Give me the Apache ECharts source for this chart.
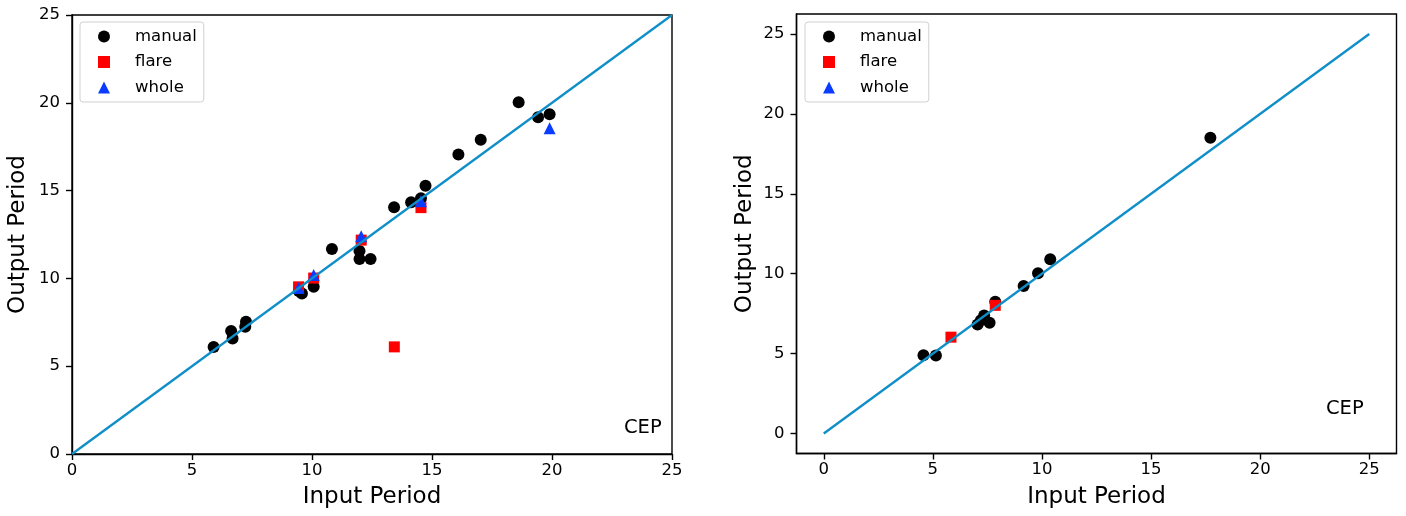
<!DOCTYPE html>
<html>
<head>
<meta charset="utf-8">
<script src="https://cdn.jsdelivr.net/npm/echarts@6/dist/echarts.min.js"></script>
<style>
html,body{margin:0;padding:0;background:#fff;}
#chart{width:1406px;height:516px;}
</style>
</head>
<body>
<div id="chart"></div>
<script>
// ---- Data ----
const seriesNames = ['manual', 'flare', 'whole'];
const tickValues = [0, 5, 10, 15, 20, 25];
const diagonal = [[0, 0], [25, 25]];

// Left panel
const leftManual = [
  [5.90, 6.10], [6.63, 7.00], [6.69, 6.58], [7.22, 7.24], [7.25, 7.53],
  [9.45, 9.28], [9.58, 9.14], [10.07, 9.52], [10.83, 11.67], [11.98, 11.56],
  [11.98, 11.10], [12.44, 11.10], [13.42, 14.05], [14.13, 14.33], [14.54, 14.56],
  [14.73, 15.28], [16.10, 17.05], [17.03, 17.90], [18.61, 20.03], [19.42, 19.18],
  [19.90, 19.35]
];
const leftFlare = [
  [9.44, 9.52], [10.07, 10.02], [12.05, 12.18], [14.54, 14.03], [13.43, 6.10]
];
const leftWhole = [
  [9.44, 9.45], [10.07, 10.19], [12.05, 12.40], [14.54, 14.40], [19.90, 18.55]
];

// Right panel
const rightManual = [
  [4.57, 4.90], [5.14, 4.88], [7.05, 6.82], [7.20, 7.09], [7.35, 7.39],
  [7.60, 6.93], [7.86, 8.25], [9.16, 9.23], [9.82, 10.03], [10.38, 10.90],
  [17.72, 18.50]
];
const rightFlare = [[5.83, 6.03], [7.86, 8.02]];
const rightWhole = [];

const annotation = 'CEP';
const xTitle = 'Input Period';
const yTitle = 'Output Period';

// ---- Styles ----
const FONT = 'DejaVu Sans';
const colors = { manual: '#000000', flare: '#ff0000', whole: '#0a3cff', line: '#0f8ec8' };
const symbols = { manual: 'circle', flare: 'rect', whole: 'triangle' };
const symbolSizes = { manual: 12, flare: 11, whole: 12 };

const chart = echarts.init(document.getElementById('chart'), null, { renderer: 'canvas' });

function makeAxis(gridIndex, isX, padded) {
  const ax = {
    type: 'value',
    gridIndex: gridIndex,
    min: padded ? -1.25 : 0,
    max: padded ? 26.25 : 25,
    name: isX ? xTitle : yTitle,
    nameLocation: 'middle',
    nameGap: isX ? 32 : (gridIndex === 0 ? 42 : 40),
    nameTextStyle: { fontFamily: FONT, fontSize: 23, color: '#000' },
    axisLine: { show: true, onZero: false, lineStyle: { color: '#000', width: 1.4 } },
    axisTick: { show: true, inside: false, length: 6, lineStyle: { color: '#000', width: 1.4 } },
    axisLabel: { fontFamily: FONT, fontSize: 16.5, color: '#000', margin: isX ? 8 : 12 },
    splitLine: { show: false }
  };
  if (padded) {
    ax.axisTick.customValues = tickValues;
    ax.axisLabel.customValues = tickValues;
  } else {
    ax.interval = 5;
  }
  return ax;
}

function scatter(name, data, idx) {
  return {
    name: name,
    type: 'scatter',
    xAxisIndex: idx, yAxisIndex: idx,
    data: data,
    symbol: symbols[name],
    symbolSize: symbolSizes[name],
    itemStyle: { color: colors[name], opacity: 1 },
    emphasis: { disabled: true },
    silent: true,
    animation: false
  };
}

function lineSeries(idx) {
  return {
    name: 'diag',
    type: 'line',
    xAxisIndex: idx, yAxisIndex: idx,
    data: diagonal,
    symbol: 'none',
    lineStyle: { color: colors.line, width: 2.3 },
    z: 5,
    silent: true,
    animation: false
  };
}

function legend(left) {
  return {
    orient: 'vertical',
    left: left,
    top: 22,
    data: seriesNames.map(n => ({ name: n, icon: symbols[n], itemStyle: { color: colors[n] } })),
    itemWidth: 12,
    itemHeight: 12,
    itemGap: 8.5,
    padding: [6, 7, 6, 18],
    backgroundColor: '#fff',
    borderColor: '#d0d0d0',
    borderWidth: 1,
    borderRadius: 3,
    selectedMode: false,
    textStyle: { fontFamily: FONT, fontSize: 16.5, color: '#000', padding: [0, 0, 0, 20] }
  };
}

const option = {
  backgroundColor: '#fff',
  animation: false,
  grid: [
    { left: 72, top: 15, width: 600, height: 439, show: true, borderColor: '#000', borderWidth: 1.4, containLabel: false },
    { left: 796.5, top: 14, width: 600, height: 439.5, show: true, borderColor: '#000', borderWidth: 1.4, containLabel: false }
  ],
  xAxis: [makeAxis(0, true, false), makeAxis(1, true, true)],
  yAxis: [makeAxis(0, false, false), makeAxis(1, false, true)],
  legend: [legend(80), legend(805)],
  series: [
    scatter('manual', leftManual, 0),
    scatter('flare', leftFlare, 0),
    scatter('whole', leftWhole, 0),
    lineSeries(0),
    scatter('manual', rightManual, 1),
    scatter('flare', rightFlare, 1),
    scatter('whole', rightWhole, 1),
    lineSeries(1)
  ],
  graphic: [
    { type: 'text', left: 624, top: 418, style: { text: annotation, font: '19.5px "DejaVu Sans"', fill: '#000' } },
    { type: 'text', left: 1326, top: 399, style: { text: annotation, font: '19.5px "DejaVu Sans"', fill: '#000' } }
  ]
};

chart.setOption(option);
</script>
</body>
</html>
